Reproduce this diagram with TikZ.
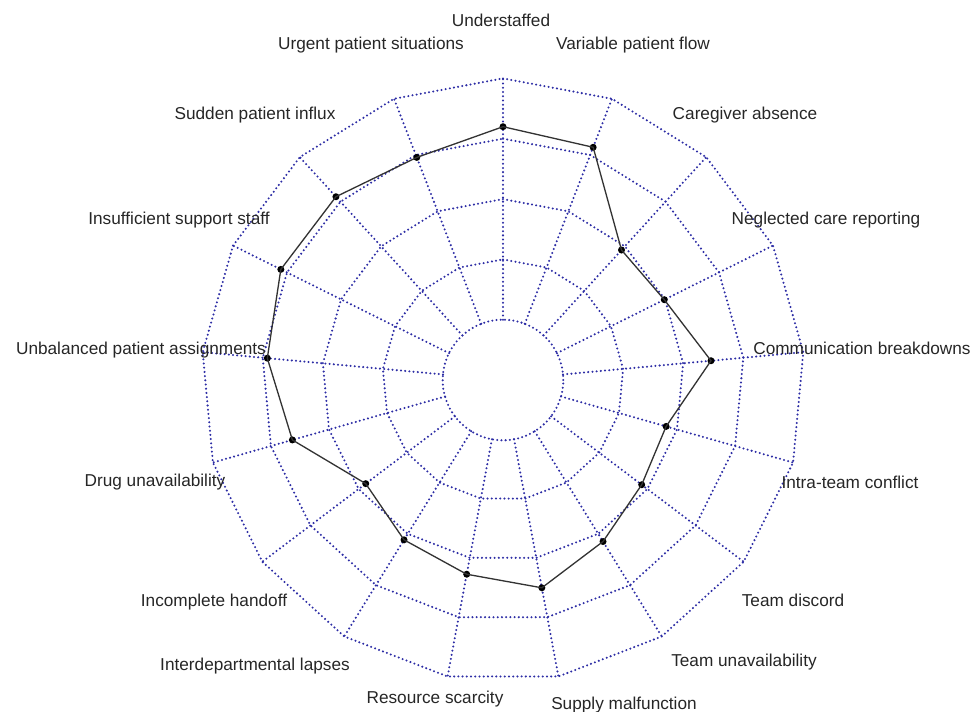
\documentclass[tikz,border=0pt]{standalone}
\usepackage{fontspec}
\setmainfont{Liberation Sans}
\usetikzlibrary{positioning}

\definecolor{gridblue}{RGB}{45,45,165}
\tikzset{
  grid line/.style={gridblue, line width=1.3pt, line cap=round, dash pattern=on 0pt off 2.4pt},
  score line/.style={black!80, line width=0.75pt},
  score dot/.style={circle, fill=black, inner sep=0pt, minimum size=0.14cm},
  axis label/.style={font=\fontsize{9.8pt}{11pt}\selectfont, text=black!85, inner sep=0pt, anchor=base},
}

\begin{document}
\begin{tikzpicture}[x=0.02cm, y=0.02cm]
    \useasboundingbox (-503,-331) rectangle (473,380);

    % rings and spokes
    \draw[grid line] (0,0) circle (60.3);
    \foreach \r in {120.6,180.9,241.3,301.6}
        \draw[grid line] (90:\r) \foreach \k in {1,...,16} { -- ({90-\k*360/17}:\r) } -- cycle;
    \foreach \k in {0,...,16}
        \draw[grid line] ({90-\k*360/17}:60.3) -- ({90-\k*360/17}:301.6);

    % scores
    \foreach \v [count=\i from 0] in {253.3,249.6,175.9,180.2,208.9,169.6,173.8,190,211.4,197.6,188,172,219,236.7,248.2,248,238.7}
        \node[score dot] (p\i) at ({90-\i*360/17}:\v) {};
    \draw[score line] (p0.center) \foreach \i in {1,...,16} { -- (p\i.center) } -- cycle;

    % axis labels
    \node[axis label] (understaffed) at (-2,354) {Understaffed};
    \node[axis label] (flow) at (130,331) {Variable patient flow};
    \node[axis label] (absence) at (242,261) {Caregiver absence};
    \node[axis label] (reporting) at (323,156) {Neglected care reporting};
    \node[axis label] (communication) at (359,26) {Communication breakdowns};
    \node[axis label] (conflict) at (347,-108) {Intra-team conflict};
    \node[axis label] (discord) at (290,-226) {Team discord};
    \node[axis label] (teamunav) at (241,-286) {Team unavailability};
    \node[axis label] (supply) at (121,-329) {Supply malfunction};
    \node[axis label] (resource) at (-68,-323) {Resource scarcity};
    \node[axis label] (lapses) at (-248,-290) {Interdepartmental lapses};
    \node[axis label] (handoff) at (-289,-226) {Incomplete handoff};
    \node[axis label] (drug) at (-348,-106) {Drug unavailability};
    \node[axis label] (unbalanced) at (-362,26) {Unbalanced patient assignments};
    \node[axis label] (support) at (-324,156) {Insufficient support staff};
    \node[axis label] (influx) at (-248,261) {Sudden patient influx};
    \node[axis label] (urgent) at (-132,331) {Urgent patient situations};

\end{tikzpicture}
\end{document}
